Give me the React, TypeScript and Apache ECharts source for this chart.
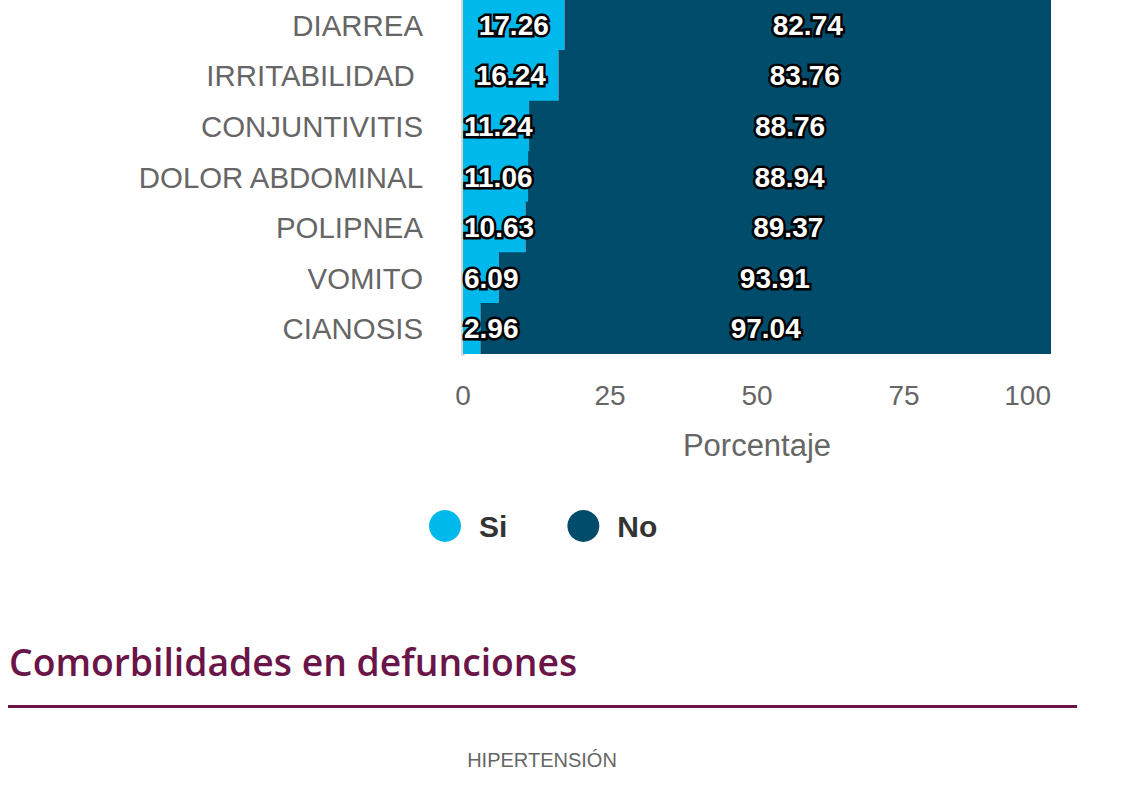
import React, { useEffect, useRef } from "react";
import * as echarts from "echarts";

const categories = ["DIARREA", "IRRITABILIDAD ", "CONJUNTIVITIS", "DOLOR ABDOMINAL", "POLIPNEA", "VOMITO", "CIANOSIS"];
const siValues = [17.26, 16.24, 11.24, 11.06, 10.63, 6.09, 2.96];
const noValues = [82.74, 83.76, 88.76, 88.94, 89.37, 93.91, 97.04];
const xTicks = [0, 25, 50, 75, 100];
const seriesNames = ["Si", "No"];
const titleText = "Comorbilidades en defunciones";
const nextChartTitle = "HIPERTENSIÓN";

const SI_COLOR = "#00b9ec";
const NO_COLOR = "#024c6b";
const PURPLE = "#6a1448";
const FONT = "Arial";

export default function App() {
  const ref = useRef<HTMLDivElement>(null);
  useEffect(() => {
    if (!ref.current) return;
    const chart = echarts.init(ref.current, undefined, { renderer: "svg" });
    const labelBase = {
      show: true,
      color: "#fff",
      fontFamily: FONT,
      fontWeight: "bold",
      fontSize: 28,
      textBorderColor: "#000",
      textBorderWidth: 5,
      formatter: (p: any) => p.value.toFixed(2),
    };
    chart.setOption({
      animation: false,
      textStyle: { fontFamily: FONT },
      grid: { left: 463, right: 85, top: 0, height: 354, containLabel: false },
      legend: {
        data: seriesNames,
        left: 429,
        top: 510,
        padding: 0,
        icon: "circle",
        itemWidth: 32,
        itemHeight: 32,
        itemGap: 60,
        textStyle: {
          fontFamily: FONT,
          fontSize: 30,
          fontWeight: "bold",
          color: "#333",
          padding: [0, 0, 0, 13],
        },
      },
      xAxis: {
        type: "value",
        min: xTicks[0],
        max: xTicks[xTicks.length - 1],
        interval: 25,
        splitLine: { show: false },
        axisLine: { show: false },
        axisTick: { show: false },
        axisLabel: {
          fontFamily: FONT,
          fontSize: 28,
          color: "#666",
          margin: 27,
          alignMaxLabel: "right",
        },
        name: "Porcentaje",
        nameLocation: "middle",
        nameGap: 76,
        nameTextStyle: { fontFamily: FONT, fontSize: 31, color: "#666" },
      },
      yAxis: {
        type: "category",
        data: categories,
        inverse: true,
        axisLine: { show: true, lineStyle: { color: "#d6d6d6", width: 4 } },
        axisTick: { show: false },
        axisLabel: { fontFamily: FONT, fontSize: 29.4, color: "#666", margin: 40 },
      },
      series: [
        {
          name: seriesNames[0],
          type: "bar",
          stack: "total",
          barWidth: "102%",
          itemStyle: { color: SI_COLOR },
          label: { ...labelBase, position: "inside" },
          data: siValues.map((v) => ({
            value: v,
            label: v < 12.2 ? { position: "insideLeft", distance: 1 } : { position: "inside" },
          })),
        },
        {
          name: seriesNames[1],
          type: "bar",
          stack: "total",
          barWidth: "102%",
          itemStyle: { color: NO_COLOR },
          label: { ...labelBase, position: "inside" },
          data: noValues,
        },
      ],
      graphic: [
        {
          type: "text",
          left: 9,
          top: 643,
          style: {
            text: titleText,
            fontFamily: "Open Sans",
            fontWeight: 600,
            fontSize: 37.3,
            fill: PURPLE,
          },
        },
        {
          type: "rect",
          shape: { x: 8, y: 705, width: 1069, height: 3 },
          style: { fill: PURPLE },
        },
        {
          type: "text",
          x: 542,
          y: 760,
          style: {
            text: nextChartTitle,
            fontFamily: FONT,
            fontSize: 20,
            fill: "#666",
            align: "center",
            verticalAlign: "middle",
          },
        },
      ],
    });
    return () => chart.dispose();
  }, []);
  return (
    <div
      ref={ref}
      style={{ position: "absolute", left: 0, top: 0, width: 1136, height: 789 }}
    />
  );
}
